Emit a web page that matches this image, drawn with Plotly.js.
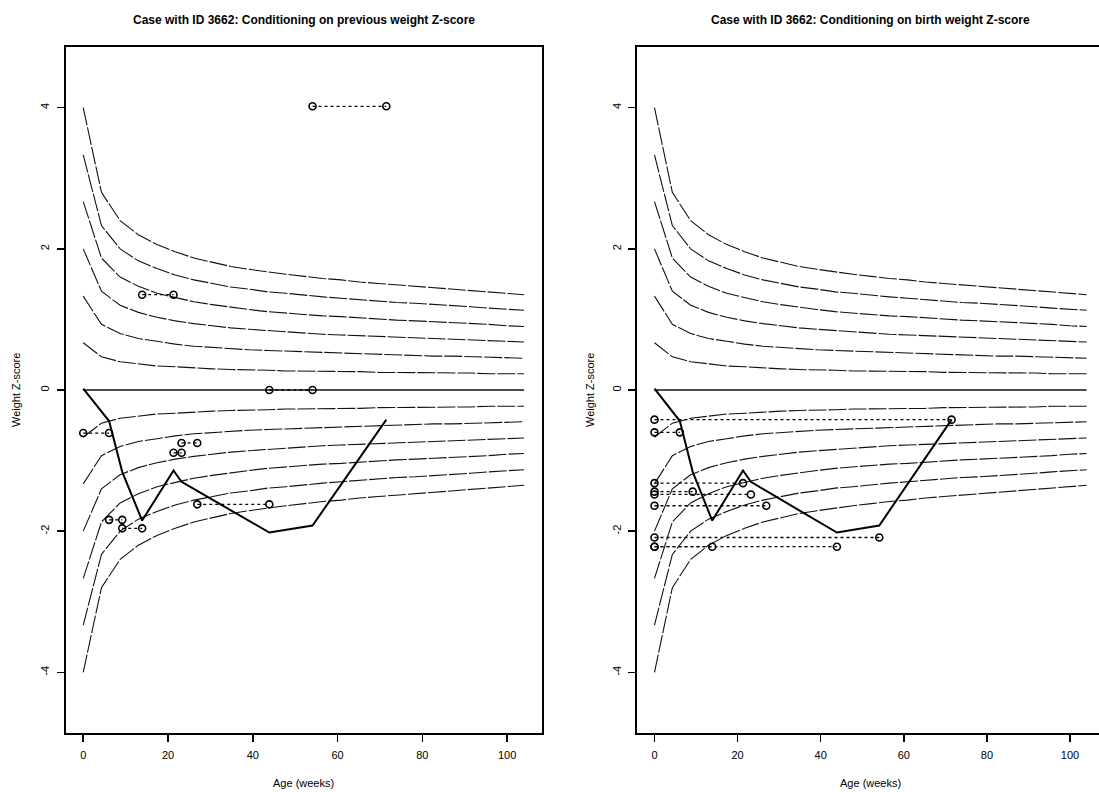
<!DOCTYPE html>
<html>
<head>
<meta charset="utf-8">
<script src="https://cdn.plot.ly/plotly-3.0.1.min.js"></script>
<style>
html, body { margin: 0; padding: 0; overflow: hidden; background: #fff; }
#chart { width: 1115px; height: 792px; }
</style>
</head>
<body>
<div id="chart"></div>
<script>
// ---------------- DATA ----------------
// Ages (weeks) at which the reference curves are tabulated
var curveAges = [0, 4.3, 8.7, 13, 17.4, 21.7, 26.1, 30.4, 34.8, 39.1, 43.5, 47.8, 52.2,
                 56.5, 60.9, 65.2, 69.6, 73.9, 78.3, 82.6, 87, 91.3, 95.7, 100, 104];

// Reference curves (Z-score), top to bottom
var refP6 = [4.00, 2.80, 2.40, 2.20, 2.06, 1.96, 1.87, 1.81, 1.75, 1.71, 1.67, 1.64, 1.61, 1.58, 1.56, 1.53, 1.51, 1.49, 1.47, 1.45, 1.43, 1.41, 1.39, 1.37, 1.35];
var refP5 = [3.33, 2.33, 2.00, 1.83, 1.72, 1.63, 1.56, 1.51, 1.46, 1.43, 1.39, 1.37, 1.34, 1.32, 1.30, 1.28, 1.26, 1.24, 1.23, 1.21, 1.19, 1.18, 1.16, 1.14, 1.13];
var refP4 = [2.67, 1.87, 1.60, 1.47, 1.37, 1.31, 1.25, 1.21, 1.17, 1.14, 1.11, 1.09, 1.07, 1.05, 1.04, 1.02, 1.01, 0.99, 0.98, 0.97, 0.95, 0.94, 0.93, 0.91, 0.90];
var refP3 = [2.00, 1.40, 1.20, 1.10, 1.03, 0.98, 0.94, 0.91, 0.88, 0.86, 0.84, 0.82, 0.81, 0.79, 0.78, 0.77, 0.76, 0.75, 0.74, 0.73, 0.72, 0.71, 0.70, 0.69, 0.68];
var refP2 = [1.33, 0.93, 0.80, 0.73, 0.69, 0.65, 0.62, 0.60, 0.58, 0.57, 0.56, 0.55, 0.54, 0.53, 0.52, 0.51, 0.50, 0.50, 0.49, 0.48, 0.48, 0.47, 0.46, 0.46, 0.45];
var refP1 = [0.67, 0.47, 0.40, 0.37, 0.34, 0.33, 0.31, 0.30, 0.29, 0.29, 0.28, 0.27, 0.27, 0.26, 0.26, 0.26, 0.25, 0.25, 0.25, 0.24, 0.24, 0.24, 0.23, 0.23, 0.23];
var ref0  = [0, 0, 0, 0, 0, 0, 0, 0, 0, 0, 0, 0, 0, 0, 0, 0, 0, 0, 0, 0, 0, 0, 0, 0, 0];
var refM1 = [-0.67, -0.47, -0.40, -0.37, -0.34, -0.33, -0.31, -0.30, -0.29, -0.29, -0.28, -0.27, -0.27, -0.26, -0.26, -0.26, -0.25, -0.25, -0.25, -0.24, -0.24, -0.24, -0.23, -0.23, -0.23];
var refM2 = [-1.33, -0.93, -0.80, -0.73, -0.69, -0.65, -0.62, -0.60, -0.58, -0.57, -0.56, -0.55, -0.54, -0.53, -0.52, -0.51, -0.50, -0.50, -0.49, -0.48, -0.48, -0.47, -0.46, -0.46, -0.45];
var refM3 = [-2.00, -1.40, -1.20, -1.10, -1.03, -0.98, -0.94, -0.91, -0.88, -0.86, -0.84, -0.82, -0.81, -0.79, -0.78, -0.77, -0.76, -0.75, -0.74, -0.73, -0.72, -0.71, -0.70, -0.69, -0.68];
var refM4 = [-2.67, -1.87, -1.60, -1.47, -1.37, -1.31, -1.25, -1.21, -1.17, -1.14, -1.11, -1.09, -1.07, -1.05, -1.04, -1.02, -1.01, -0.99, -0.98, -0.97, -0.95, -0.94, -0.93, -0.91, -0.90];
var refM5 = [-3.33, -2.33, -2.00, -1.83, -1.72, -1.63, -1.56, -1.51, -1.46, -1.43, -1.39, -1.37, -1.34, -1.32, -1.30, -1.28, -1.26, -1.24, -1.23, -1.21, -1.19, -1.18, -1.16, -1.14, -1.13];
var refM6 = [-4.00, -2.80, -2.40, -2.20, -2.06, -1.96, -1.87, -1.81, -1.75, -1.71, -1.67, -1.64, -1.61, -1.58, -1.56, -1.53, -1.51, -1.49, -1.47, -1.45, -1.43, -1.41, -1.39, -1.37, -1.35];

// Observed weight Z-score trajectory of case 3662
var obsAges = [0, 6.1, 9.2, 13.9, 21.3, 23.2, 26.9, 43.9, 54.1, 71.5];
var obsZ    = [0.02, -0.44, -1.16, -1.85, -1.14, -1.30, -1.43, -2.02, -1.92, -0.42];

// Left panel: conditioning on previous weight Z-score (from previous age to current age)
var prevFromAge = [0, 6.1, 9.2, 13.9, 21.3, 23.2, 26.9, 43.9, 54.1];
var prevToAge   = [6.1, 9.2, 13.9, 21.3, 23.2, 26.9, 43.9, 54.1, 71.5];
var prevCondZ   = [-0.61, -1.84, -1.96, 1.35, -0.89, -0.75, -1.62, 0.00, 4.02];

// Right panel: conditioning on birth weight Z-score (from birth to current age)
var birthFromAge = [0, 0, 0, 0, 0, 0, 0, 0, 0];
var birthToAge   = [6.1, 9.2, 13.9, 21.3, 23.2, 26.9, 43.9, 54.1, 71.5];
var birthCondZ   = [-0.60, -1.44, -2.22, -1.32, -1.48, -1.64, -2.22, -2.09, -0.42];

var xTicks = [0, 20, 40, 60, 80, 100];
var yTicks = [-4, -2, 0, 2, 4];
var panelTitles = ["Case with ID 3662: Conditioning on previous weight Z-score",
                   "Case with ID 3662: Conditioning on birth weight Z-score"];
var xLabel = "Age (weeks)";
var yLabel = "Weight Z-score";

// ---------------- BUILD ----------------
var refCurves = [refP6, refP5, refP4, refP3, refP2, refP1, ref0, refM1, refM2, refM3, refM4, refM5, refM6];
var FONT = "Liberation Sans, Arial, Helvetica, sans-serif";
var traces = [];

function addPanel(xa, ya, fromAge, toAge, condZ) {
  refCurves.forEach(function (c, i) {
    traces.push({
      type: 'scatter', mode: 'lines', x: curveAges, y: c, xaxis: xa, yaxis: ya,
      line: { color: '#111', width: (i === 6 ? 1.4 : 1.1), dash: (i === 6 ? 'solid' : '18px,2px') },
      hoverinfo: 'skip', showlegend: false
    });
  });
  traces.push({
    type: 'scatter', mode: 'lines', x: obsAges, y: obsZ, xaxis: xa, yaxis: ya,
    line: { color: '#000', width: 2 }, showlegend: false
  });
  for (var k = 0; k < condZ.length; k++) {
    traces.push({
      type: 'scatter', mode: 'lines+markers',
      x: [fromAge[k], toAge[k]], y: [condZ[k], condZ[k]], xaxis: xa, yaxis: ya,
      line: { color: '#000', width: 1.3, dash: '3px,3px' },
      marker: { symbol: 'circle-open', size: 7, color: '#000', line: { width: 1.6, color: '#000' } },
      showlegend: false
    });
  }
}
addPanel('x', 'y', prevFromAge, prevToAge, prevCondZ);
addPanel('x2', 'y2', birthFromAge, birthToAge, birthCondZ);

var W = 1115, H = 792;
function px(v) { return v / W; }
function py(v) { return (H - v) / H; }

function xAxis(d0, d1, anchor) {
  return {
    domain: [px(d0), px(d1)], anchor: anchor, range: [-4.16, 108.16],
    tickvals: xTicks, ticktext: xTicks.map(String), ticks: 'outside', ticklen: 7, tickwidth: 1.5,
    tickcolor: '#000', showline: true, mirror: true, linecolor: '#000', linewidth: 1.8,
    showgrid: false, zeroline: false, ticklabelstandoff: 4,
    tickfont: { family: FONT, size: 11, color: '#000' }, fixedrange: true
  };
}
function yAxis(anchor) {
  return {
    domain: [py(733), py(47)], anchor: anchor, range: [-4.86, 4.86],
    tickvals: yTicks, ticktext: yTicks.map(String), ticks: 'outside', ticklen: 7, tickwidth: 1.5,
    tickcolor: '#000', showline: true, mirror: true, linecolor: '#000', linewidth: 1.8,
    showgrid: false, zeroline: false, tickangle: -90, ticklabelstandoff: 3,
    tickfont: { family: FONT, size: 11, color: '#000' }, fixedrange: true
  };
}

var L0 = 65.6, L1 = 541.7, R0 = 637.2, R1 = 1103.9;
var annotations = [
  { text: '<b>' + panelTitles[0] + '</b>', x: px((L0 + L1) / 2), y: py(20), xref: 'paper', yref: 'paper',
    showarrow: false, xanchor: 'center', yanchor: 'middle', font: { family: FONT, size: 12, color: '#000' } },
  { text: '<b>' + panelTitles[1] + '</b>', x: px((R0 + R1) / 2), y: py(20), xref: 'paper', yref: 'paper',
    showarrow: false, xanchor: 'center', yanchor: 'middle', font: { family: FONT, size: 12, color: '#000' } },
  { text: xLabel, x: px((L0 + L1) / 2), y: py(783), xref: 'paper', yref: 'paper',
    showarrow: false, xanchor: 'center', yanchor: 'middle', font: { family: FONT, size: 11, color: '#000' } },
  { text: xLabel, x: px((R0 + R1) / 2), y: py(783), xref: 'paper', yref: 'paper',
    showarrow: false, xanchor: 'center', yanchor: 'middle', font: { family: FONT, size: 11, color: '#000' } },
  { text: yLabel, x: px(16), y: py(390), xref: 'paper', yref: 'paper', textangle: -90,
    showarrow: false, xanchor: 'center', yanchor: 'middle', font: { family: FONT, size: 11, color: '#000' } },
  { text: yLabel, x: px(590), y: py(390), xref: 'paper', yref: 'paper', textangle: -90,
    showarrow: false, xanchor: 'center', yanchor: 'middle', font: { family: FONT, size: 11, color: '#000' } }
];

var layout = {
  width: W, height: H, margin: { l: 0, r: 0, t: 0, b: 0 },
  paper_bgcolor: '#fff', plot_bgcolor: '#fff', showlegend: false,
  xaxis: xAxis(L0, L1, 'y'), yaxis: yAxis('x'),
  xaxis2: xAxis(R0, R1, 'y2'), yaxis2: yAxis('x2'),
  annotations: annotations, hovermode: false
};

Plotly.newPlot('chart', traces, layout, { staticPlot: true, displayModeBar: false });
</script>
</body>
</html>
